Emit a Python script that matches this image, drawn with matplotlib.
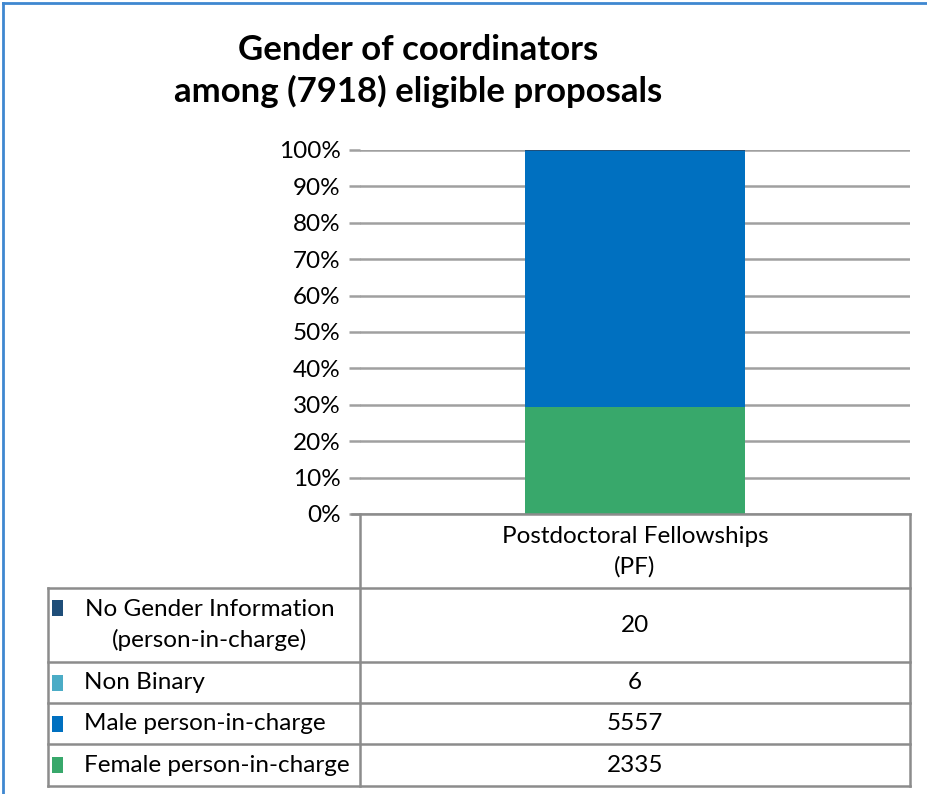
import matplotlib
matplotlib.use("Agg")
import matplotlib.pyplot as plt
from matplotlib.lines import Line2D
from matplotlib.patches import Rectangle

plt.rcParams['font.family'] = ['Lato', 'DejaVu Sans']

title = "Gender of coordinators\namong (7918) eligible proposals"
category = "Postdoctoral Fellowships\n(PF)"
series_names = ["Female person-in-charge", "Male person-in-charge", "Non Binary",
                "No Gender Information\n(person-in-charge)"]
series_values = [2335, 5557, 6, 20]
series_colors = ["#38A86B", "#0070C0", "#4BACC6", "#1F4E79"]
yticks = [0, 10, 20, 30, 40, 50, 60, 70, 80, 90, 100]

W, H = 928, 794
fig = plt.figure(figsize=(W / 100, H / 100), dpi=100)

def fx(px):
    return px / W

def fy(py):
    return 1 - py / H

FS = 17.5

# axes area (pixels)
L, R, T, B = 360, 910, 150, 514
ax = fig.add_axes([fx(L), fy(B), fx(R) - fx(L), fy(T) - fy(B)])

total = sum(series_values)
bottom = 0.0
for v, c in zip(series_values, series_colors):
    pct = v / total * 100
    ax.bar(0, pct, width=0.4, bottom=bottom, color=c, zorder=3)
    bottom += pct

ax.set_xlim(-0.5, 0.5)
ax.set_ylim(0, 100)
ax.set_yticks(yticks)
ax.set_yticklabels([f"{t}%" for t in yticks], fontsize=FS)
ax.set_xticks([])
grid_c = "#A0A0A0"
ax.yaxis.grid(True, color=grid_c, linewidth=1.8, zorder=0)
ax.tick_params(axis='y', length=8, width=1.8, color=grid_c, pad=6)
for s in ["top", "right", "left", "bottom"]:
    ax.spines[s].set_visible(False)

# title
fig.text(fx(418), fy(71), title, ha='center', va='center', fontsize=25,
         fontweight='bold', linespacing=1.3)

# table
line_c = "#8C8C8C"
lw = 1.8

def hline(y, x0, x1):
    fig.add_artist(Line2D([fx(x0), fx(x1)], [fy(y), fy(y)], color=line_c, lw=lw))

def vline(x, y0, y1):
    fig.add_artist(Line2D([fx(x), fx(x)], [fy(y0), fy(y1)], color=line_c, lw=lw))

row_edges = [588, 662, 703, 744, 786]
hline(B, L - 8, R)
for y in row_edges:
    hline(y, 48, R)
vline(L, B, row_edges[-1])
vline(R, B, row_edges[-1])
vline(48, row_edges[0], row_edges[-1])

fig.text(fx((L + R) / 2), fy((B + row_edges[0]) / 2 + 1), category, ha='center',
         va='center', fontsize=FS, linespacing=1.5)

# rows ordered top to bottom: reverse of stacking order
order = list(reversed(range(len(series_values))))
for i, idx in enumerate(order):
    y0, y1 = row_edges[i], row_edges[i + 1]
    yc = (y0 + y1) / 2
    name = series_names[idx]
    if "\n" in name:
        fig.text(fx(210), fy(yc), name, ha='center', va='center', fontsize=FS,
                 linespacing=1.5, multialignment='center')
        key_y = y0 + 20
    else:
        fig.text(fx(84), fy(yc), name, ha='left', va='center', fontsize=FS)
        key_y = yc
    fig.add_artist(Rectangle((fx(52), fy(key_y + 8)), fx(11), 16 / H,
                             facecolor=series_colors[idx], edgecolor='none'))
    fig.text(fx((L + R) / 2), fy(yc), str(series_values[idx]), ha='center',
             va='center', fontsize=FS)

# outer blue border (top and left)
border_c = "#3F87D0"
fig.add_artist(Line2D([fx(3), 1], [fy(3), fy(3)], color=border_c, lw=2))
fig.add_artist(Line2D([fx(3), fx(3)], [fy(3), 0], color=border_c, lw=2))

fig.savefig("out.png", dpi=100)
